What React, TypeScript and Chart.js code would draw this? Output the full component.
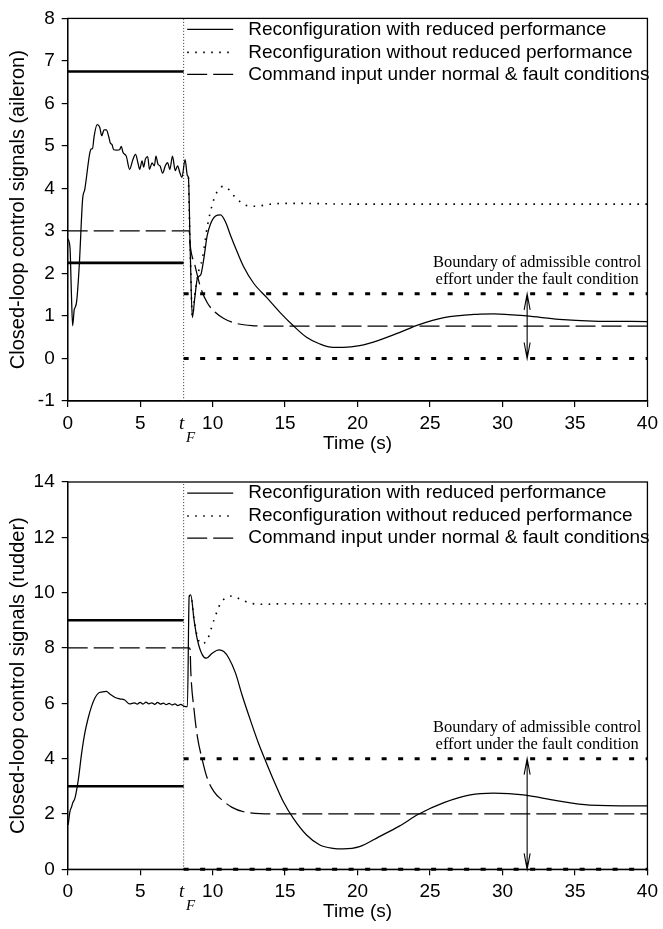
import React, { useEffect, useRef } from 'react';
import { Chart, registerables } from 'chart.js';

Chart.register(...registerables);

type Pt = [number, number];

const SANS = '"Liberation Sans", Arial, Helvetica, sans-serif';
const SERIF = '"Liberation Serif", "Times New Roman", serif';

// Shared time axis
const TIME_TICKS = [0, 5, 10, 15, 20, 25, 30, 35, 40];
const FAULT_TIME = 8;
const ARROW_TIME = 31.7;

const LEGEND_LABELS = [
  'Reconfiguration with reduced performance',
  'Reconfiguration without reduced performance',
  'Command input under normal & fault conditions',
];
const BOUNDARY_NOTE = ['Boundary of admissible control', 'effort under the fault condition'];

// ---- Aileron channel ----
const AILERON_TICKS = [-1, 0, 1, 2, 3, 4, 5, 6, 7, 8];
const AILERON_BOUNDS_NORMAL = [6.75, 2.25];
const AILERON_BOUNDS_FAULT = [1.52, 0];

const AILERON_REDUCED: Pt[] = [
  [0, 2.82], [0.16, 2.6], [0.25, 1.6], [0.34, 0.77], [0.45, 1.15], [0.5, 1.19], [0.62, 1.35],
  [0.8, 2.2], [1.03, 3.75], [1.18, 3.98], [1.53, 4.84], [1.64, 4.93], [1.71, 4.93], [1.82, 5.22],
  [2.03, 5.5], [2.21, 5.44], [2.35, 5.24], [2.51, 5.38], [2.67, 5.38], [2.83, 5.22], [2.94, 5.07],
  [3.06, 5.03], [3.17, 4.91], [3.4, 4.9], [3.58, 4.91], [3.7, 4.99], [3.81, 4.85], [4.04, 4.76],
  [4.27, 4.45], [4.5, 4.68], [4.68, 4.8], [4.86, 4.58], [4.97, 4.45], [5.13, 4.65], [5.24, 4.5],
  [5.36, 4.69], [5.52, 4.75], [5.64, 4.45], [5.82, 4.6], [5.98, 4.53], [6.09, 4.76], [6.23, 4.57],
  [6.37, 4.53], [6.55, 4.36], [6.73, 4.53], [6.89, 4.61], [7.05, 4.45], [7.23, 4.76], [7.42, 4.42],
  [7.58, 4.53], [7.74, 4.37], [7.88, 4.26], [8.1, 4.68], [8.26, 4.3], [8.33, 4.26], [8.45, 2.6],
  [8.6, 0.96], [8.77, 1.43], [8.95, 1.89], [9.18, 1.97], [9.36, 2.28], [9.63, 2.9], [9.86, 3.17],
  [10.2, 3.35], [10.55, 3.38], [10.89, 3.21], [11.23, 2.9], [11.69, 2.51], [12.14, 2.16],
  [12.83, 1.77], [13.74, 1.43], [14.66, 1.08], [15.57, 0.77], [16.48, 0.5], [17.4, 0.34],
  [18.3, 0.26], [19.0, 0.26], [20.14, 0.3], [21.5, 0.43], [22.88, 0.61], [24.2, 0.79],
  [25.96, 0.96], [28.24, 1.04], [29.4, 1.05], [31.66, 1.0], [33.9, 0.92], [36.2, 0.88], [40, 0.87],
];

const AILERON_UNREDUCED: Pt[] = [
  [8.33, 4.26], [8.45, 2.6], [8.6, 1.0], [8.77, 1.5], [8.95, 1.93], [9.29, 2.35], [9.63, 3.1],
  [10.09, 3.75], [10.4, 3.97], [10.73, 4.05], [11.1, 3.98], [11.46, 3.83], [12.26, 3.61],
  [12.95, 3.58], [13.97, 3.63], [15.3, 3.65], [20, 3.63], [40, 3.63],
];

const AILERON_COMMAND: Pt[] = [
  [0, 3], [8.38, 3], [8.45, 2.67], [8.77, 2.2], [9.18, 1.66], [9.63, 1.31], [10.2, 1.08],
  [10.77, 0.94], [11.69, 0.82], [12.83, 0.77], [14, 0.76], [40, 0.76],
];

// ---- Rudder channel ----
const RUDDER_TICKS = [0, 2, 4, 6, 8, 10, 12, 14];
const RUDDER_BOUNDS_NORMAL = [9, 3];
const RUDDER_BOUNDS_FAULT = [4, 0];

const RUDDER_REDUCED: Pt[] = [
  [0.03, 1.6], [0.16, 2.1], [0.27, 2.26], [0.34, 2.39], [0.5, 2.57], [0.73, 3.23], [0.96, 4.19],
  [1.18, 4.92], [1.41, 5.46], [1.64, 5.88], [1.87, 6.18], [2.1, 6.36], [2.4, 6.41], [2.67, 6.43],
  [2.9, 6.34], [3.24, 6.22], [3.58, 6.16], [3.93, 6.12], [4.27, 5.98], [4.61, 6.02], [4.8, 5.97],
  [5.0, 6.03], [5.2, 5.97], [5.4, 6.04], [5.6, 5.98], [5.8, 6.02], [6.0, 5.96], [6.2, 6.03],
  [6.4, 5.97], [6.6, 6.01], [6.8, 5.95], [7.0, 6.0], [7.2, 5.94], [7.4, 5.98], [7.6, 5.92],
  [7.8, 5.96], [8.0, 5.9], [8.26, 5.88], [8.38, 9.86], [8.49, 9.92], [8.72, 9.01], [8.95, 8.29],
  [9.29, 7.75], [9.56, 7.63], [9.97, 7.81], [10.43, 7.93], [10.77, 7.87], [11.12, 7.63],
  [11.58, 7.09], [12.03, 6.3], [12.6, 5.4], [13.17, 4.55], [13.63, 3.95], [14.2, 3.23],
  [14.88, 2.44], [15.57, 1.84], [16.48, 1.24], [17.4, 0.88], [18.3, 0.76], [19.0, 0.74],
  [20.14, 0.82], [21.5, 1.18], [22.88, 1.56], [24.2, 1.99], [25.96, 2.41], [27.78, 2.69],
  [29.37, 2.75], [31.44, 2.69], [33.72, 2.48], [36.0, 2.32], [40, 2.29],
];

const RUDDER_UNREDUCED: Pt[] = [
  [8.38, 9.86], [8.49, 9.92], [8.72, 9.01], [8.95, 8.4], [9.2, 8.15], [9.4, 8.17], [9.63, 8.29],
  [10.09, 9.01], [10.55, 9.62], [10.89, 9.8], [11.34, 9.88], [11.92, 9.76], [12.6, 9.62],
  [13.52, 9.58], [15, 9.6], [40, 9.6],
];

const RUDDER_COMMAND: Pt[] = [
  [0, 8], [8.38, 8], [8.45, 7.93], [8.49, 7.2], [8.72, 5.76], [8.95, 4.79], [9.29, 3.95],
  [9.63, 3.29], [10.09, 2.81], [10.66, 2.5], [11.34, 2.24], [12.14, 2.08], [13.28, 2.01],
  [15, 2.0], [40, 2.0],
];

interface Panel {
  yTitle: string;
  yTicks: number[];
  reduced: Pt[];
  unreduced: Pt[];
  command: Pt[];
  boundsNormal: number[];
  boundsFault: number[];
}

interface Frame {
  width: number;
  height: number;
  padTop: number;
  xAxisHeight: number;
  titlePad: number;
}

const AILERON_PANEL: Panel = {
  yTitle: 'Closed-loop control signals (aileron)',
  yTicks: AILERON_TICKS,
  reduced: AILERON_REDUCED,
  unreduced: AILERON_UNREDUCED,
  command: AILERON_COMMAND,
  boundsNormal: AILERON_BOUNDS_NORMAL,
  boundsFault: AILERON_BOUNDS_FAULT,
};

const RUDDER_PANEL: Panel = {
  yTitle: 'Closed-loop control signals (rudder)',
  yTicks: RUDDER_TICKS,
  reduced: RUDDER_REDUCED,
  unreduced: RUDDER_UNREDUCED,
  command: RUDDER_COMMAND,
  boundsNormal: RUDDER_BOUNDS_NORMAL,
  boundsFault: RUDDER_BOUNDS_FAULT,
};

const SOLID = { dash: [] as number[], width: 1.25 };
const DOTTED = { dash: [1.6, 6.4], width: 1.6 };
const DASHED = { dash: [20, 6], width: 1.25 };
const LEGEND_STYLES = [SOLID, DOTTED, DASHED];

const toXY = (pts: Pt[]) => pts.map(([x, y]) => ({ x, y }));

function buildConfig(panel: Panel, frame: Frame): any {
  const tMin = TIME_TICKS[0];
  const tMax = TIME_TICKS[TIME_TICKS.length - 1];
  const yMin = panel.yTicks[0];
  const yMax = panel.yTicks[panel.yTicks.length - 1];

  const base = {
    pointRadius: 0,
    pointHoverRadius: 0,
    fill: false,
    borderColor: '#000',
    clip: false,
    cubicInterpolationMode: 'monotone',
  };

  const hLine = (v: number, from: number, to: number, extra: any) => ({
    ...base,
    data: [{ x: from, y: v }, { x: to, y: v }],
    ...extra,
  });

  const datasets = [
    { ...base, data: toXY(panel.reduced), borderWidth: SOLID.width },
    { ...base, data: toXY(panel.unreduced), borderWidth: DOTTED.width, borderDash: DOTTED.dash },
    { ...base, data: toXY(panel.command), borderWidth: DASHED.width, borderDash: DASHED.dash },
    ...panel.boundsNormal.map((v) => hLine(v, tMin, FAULT_TIME, { borderWidth: 2.6 })),
    ...panel.boundsFault.map((v) =>
      hLine(v, FAULT_TIME, tMax, { borderWidth: 3, borderDash: [5, 11.5] })
    ),
    {
      ...base,
      data: [{ x: FAULT_TIME, y: yMin }, { x: FAULT_TIME, y: yMax }],
      borderWidth: 1,
      borderDash: [1, 2],
      borderColor: '#333',
    },
  ];

  const decor = {
    id: 'panelDecor',
    afterDraw(chart: any) {
      const { ctx, chartArea: a, scales } = chart;
      const xs = scales.x;
      const ys = scales.y;
      ctx.save();

      // plot frame
      ctx.strokeStyle = '#000';
      ctx.lineWidth = 1.3;
      ctx.setLineDash([]);
      ctx.strokeRect(a.left, a.top, a.right - a.left, a.bottom - a.top);

      // legend
      const lx0 = a.left + 119.5;
      const lx1 = a.left + 165.5;
      const tx = a.left + 180.5;
      const rows = [11, 34, 56];
      ctx.font = `19px ${SANS}`;
      ctx.textBaseline = 'middle';
      ctx.textAlign = 'left';
      ctx.fillStyle = '#000';
      LEGEND_LABELS.forEach((label, i) => {
        const y = a.top + rows[i];
        const st = LEGEND_STYLES[i];
        ctx.beginPath();
        ctx.setLineDash(st.dash);
        ctx.lineWidth = st.width;
        ctx.moveTo(lx0, y);
        ctx.lineTo(lx1, y);
        ctx.stroke();
        ctx.setLineDash([]);
        ctx.fillText(label, tx, y);
      });

      // double arrow spanning the admissible band after the fault
      const ax = xs.getPixelForValue(ARROW_TIME);
      const yTop = ys.getPixelForValue(panel.boundsFault[0]);
      const yBot = ys.getPixelForValue(panel.boundsFault[1]);
      ctx.lineWidth = 1.1;
      ctx.beginPath();
      ctx.moveTo(ax, yTop);
      ctx.lineTo(ax, yBot);
      ctx.moveTo(ax - 3, yTop + 16);
      ctx.lineTo(ax, yTop);
      ctx.lineTo(ax + 3, yTop + 16);
      ctx.moveTo(ax - 3, yBot - 16);
      ctx.lineTo(ax, yBot);
      ctx.lineTo(ax + 3, yBot - 16);
      ctx.stroke();

      ctx.font = `16.5px ${SERIF}`;
      ctx.textAlign = 'center';
      ctx.fillText(BOUNDARY_NOTE[0], ax + 10, yTop - 31);
      ctx.fillText(BOUNDARY_NOTE[1], ax + 10, yTop - 14);

      // fault instant label t_F
      const fx = xs.getPixelForValue(FAULT_TIME);
      ctx.font = `italic 19px ${SERIF}`;
      ctx.fillText('t', fx - 2, a.bottom + 23);
      ctx.font = `italic 15px ${SERIF}`;
      ctx.fillText('F', fx + 7, a.bottom + 37);

      ctx.restore();
    },
  };

  const gridOpts = {
    display: true,
    drawOnChartArea: false,
    drawTicks: true,
    tickLength: 6,
    color: '#000',
    lineWidth: 1.2,
  };

  return {
    type: 'line',
    data: { datasets },
    plugins: [decor],
    options: {
      animation: false,
      responsive: false,
      events: [],
      parsing: false,
      layout: { padding: { top: frame.padTop, right: 11.3, left: 0, bottom: 0 } },
      plugins: { legend: { display: false }, tooltip: { enabled: false } },
      scales: {
        x: {
          type: 'linear',
          min: tMin,
          max: tMax,
          afterBuildTicks: (s: any) => {
            s.ticks = TIME_TICKS.map((value) => ({ value }));
          },
          afterFit: (s: any) => {
            s.height = frame.xAxisHeight;
          },
          grid: gridOpts,
          border: { display: true, color: '#000', width: 1.3 },
          ticks: {
            color: '#000',
            font: { family: SANS, size: 19 },
            padding: 5,
            maxRotation: 0,
            autoSkip: false,
          },
          title: {
            display: true,
            text: 'Time (s)',
            color: '#000',
            font: { family: SANS, size: 19 },
            padding: { top: 0, bottom: frame.titlePad },
          },
        },
        y: {
          type: 'linear',
          min: yMin,
          max: yMax,
          afterBuildTicks: (s: any) => {
            s.ticks = panel.yTicks.map((value) => ({ value }));
          },
          afterFit: (s: any) => {
            s.width = 67.7;
          },
          grid: gridOpts,
          border: { display: true, color: '#000', width: 1.3 },
          ticks: { color: '#000', font: { family: SANS, size: 19 }, padding: 7 },
          title: {
            display: true,
            text: panel.yTitle,
            color: '#000',
            font: { family: SANS, size: 20 },
            padding: { top: 6, bottom: 0 },
          },
        },
      },
    },
  };
}

function PanelChart({ panel, frame, top }: { panel: Panel; frame: Frame; top: number }) {
  const ref = useRef<HTMLCanvasElement | null>(null);
  useEffect(() => {
    if (!ref.current) return;
    const chart = new Chart(ref.current, buildConfig(panel, frame));
    return () => chart.destroy();
  }, [panel, frame]);
  return (
    <canvas
      ref={ref}
      width={frame.width}
      height={frame.height}
      style={{ position: 'absolute', left: 0, top, width: frame.width, height: frame.height }}
    />
  );
}

const TOP_FRAME: Frame = { width: 663, height: 460, padTop: 14, xAxisHeight: 59, titlePad: 5 };
const BOTTOM_FRAME: Frame = { width: 663, height: 469, padTop: 22, xAxisHeight: 59.7, titlePad: 5.5 };

export default function App() {
  return (
    <div style={{ position: 'absolute', left: 0, top: 0, width: 663, height: 929, background: '#fff' }}>
      <PanelChart panel={AILERON_PANEL} frame={TOP_FRAME} top={0} />
      <PanelChart panel={RUDDER_PANEL} frame={BOTTOM_FRAME} top={460} />
    </div>
  );
}
